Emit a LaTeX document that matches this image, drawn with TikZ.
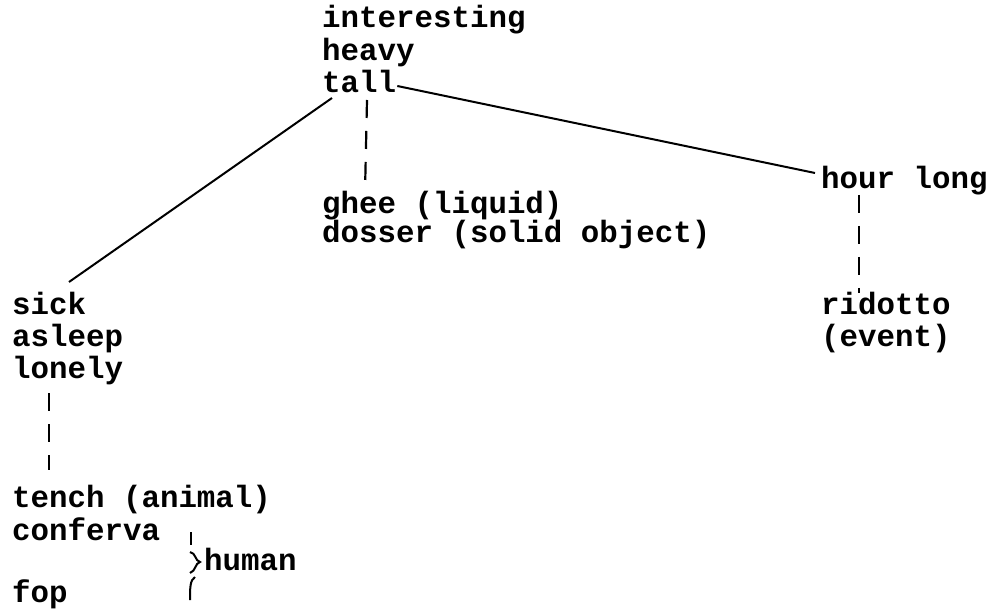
\documentclass[tikz,border=0pt]{standalone}
\usepackage{fontspec}
\setmonofont{Liberation Mono}
\begin{document}
\begin{tikzpicture}[x=1pt,y=-1pt,
  lbl/.style={anchor=base west, inner sep=0pt, font=\fontsize{30.8}{34}\selectfont\ttfamily\bfseries},
  conn/.style={line width=2pt},
  dconn/.style={line width=2.2pt, dash pattern=on 18pt off 13pt}]
\useasboundingbox (0,0) rectangle (999,612);
% top column
\node[lbl] (interesting) at (322,28) {interesting};
\node[lbl] (heavy) at (322,61) {heavy};
\node[lbl] (tall) at (322,93) {tall};
% middle
\node[lbl] (ghee) at (322,214) {ghee (liquid)};
\node[lbl] (dosser) at (322,243) {dosser (solid object)};
% right
\node[lbl] (hour) at (821,189) {hour long};
\node[lbl] (ridotto) at (821,315) {ridotto};
\node[lbl] (event) at (821,347) {(event)};
% left
\node[lbl] (sick) at (12,315) {sick};
\node[lbl] (asleep) at (12,347) {asleep};
\node[lbl] (lonely) at (12,378) {lonely};
\node[lbl] (tench) at (12,507) {tench (animal)};
\node[lbl] (conferva) at (12,540) {conferva};
\node[lbl] (fop) at (12,602) {fop};
\node[lbl] (human) at (204,570) {human};
% connectors
\draw[conn] ([shift={(10,5)}]tall.base west) -- ([shift={(57,-33)}]sick.base west);
\draw[conn] ([shift={(1,-7)}]tall.base east) -- ([shift={(-6,-16)}]hour.base west);
\draw[dconn] ([shift={(45,7)}]tall.base west) -- ([shift={(43,-22)}]ghee.base west);
\draw[dconn] ([shift={(38,6)}]hour.base west) -- ([shift={(38,-22)}]ridotto.base west);
\draw[dconn] ([shift={(37,15)}]lonely.base west) -- ([shift={(37,-37)}]tench.base west);
% brace
\draw[conn] (191,532) -- (191,545);
\draw[conn] (190,552) .. controls (196,553) and (195,561) .. (200,562) .. controls (195,563) and (196,571) .. (190,573);
\draw[conn] (195,577) .. controls (190,580) and (190,588) .. (190,600);
\end{tikzpicture}
\end{document}
